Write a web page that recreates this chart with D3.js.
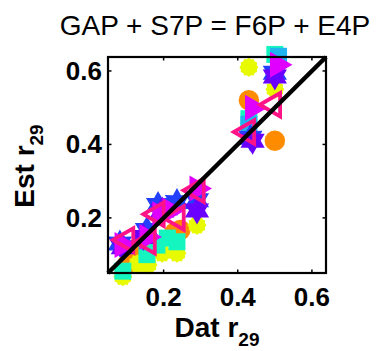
<!DOCTYPE html>
<html>
<head>
<meta charset="utf-8">
<script src="https://cdn.jsdelivr.net/npm/d3@7"></script>
<style>
  body { margin: 0; background: #fff; }
  text { font-family: "Liberation Sans", Arial, sans-serif; }
</style>
</head>
<body>
<svg id="chart" width="379" height="351"></svg>
<script>
const W = 379, H = 351;
const boxL = 108, boxR = 326, boxT = 57, boxB = 273;

const title = "GAP + S7P = F6P + E4P";
const tickValues = [0.2, 0.4, 0.6];
const tickLabels = ["0.2", "0.4", "0.6"];

// one array of [dat, est] pairs per series
const orangePts = [[0.104, 0.077], [0.142, 0.104], [0.23, 0.16], [0.245, 0.167], [0.43, 0.52], [0.50, 0.41]];
const yellowPts = [[0.09, 0.04], [0.13, 0.075], [0.158, 0.072], [0.196, 0.104], [0.236, 0.104], [0.29, 0.18], [0.43, 0.61], [0.50, 0.55]];
const cyanPts = [[0.09, 0.055], [0.155, 0.10], [0.182, 0.126], [0.21, 0.145], [0.236, 0.135], [0.43, 0.47], [0.50, 0.645]];
const skyPts = [[0.43, 0.455], [0.51, 0.64]];
const bluePts = [[0.082, 0.13], [0.155, 0.167], [0.185, 0.235], [0.236, 0.243], [0.29, 0.248], [0.434, 0.418], [0.50, 0.595]];
const violetPts = [[0.09, 0.12], [0.145, 0.148], [0.196, 0.22], [0.29, 0.22], [0.44, 0.41], [0.50, 0.585]];
const magentaPts = [[0.088, 0.126], [0.155, 0.148], [0.19, 0.21], [0.217, 0.22], [0.29, 0.28], [0.44, 0.50], [0.507, 0.617]];
const pinkPts = [[0.10, 0.14], [0.158, 0.135], [0.182, 0.21], [0.236, 0.20], [0.29, 0.275], [0.426, 0.434], [0.496, 0.508]];

const svg = d3.select("#chart");
const x = d3.scaleLinear().domain([0.05, 0.638]).range([boxL, boxR]);
const y = d3.scaleLinear().domain([0.05, 0.638]).range([boxB, boxT]);

// star polygon path centred on 0,0
function star(n, R, r, rot) {
  const pts = [];
  for (let i = 0; i < 2 * n; i++) {
    const a = rot + (i * Math.PI) / n;
    const rad = i % 2 === 0 ? R : r;
    pts.push([rad * Math.cos(a), rad * Math.sin(a)]);
  }
  return "M" + pts.map((p) => p.join(",")).join("L") + "Z";
}
// dir: 0 = pointing right, PI = pointing left
function triangle(R, dir) {
  const pts = [0, 1, 2].map((i) => {
    const a = dir + (i * 2 * Math.PI) / 3;
    return [R * Math.cos(a), R * Math.sin(a)];
  });
  return "M" + pts.map((p) => p.join(",")).join("L") + "Z";
}

const series = [
  { pts: orangePts, color: "#ff8c00", path: d3.symbol(d3.symbolCircle, 330)() },
  { pts: yellowPts, color: "#e8fa00", path: star(12, 9.5, 8.2, 0) },
  { pts: cyanPts, color: "#14f5c0", path: "M-8.5,-8.5H8.5V8.5H-8.5Z" },
  { pts: skyPts, color: "#1fb4f0", path: "M-8.5,-8.5H8.5V8.5H-8.5Z" },
  { pts: bluePts, color: "#2440ff", path: star(6, 14, 8, -Math.PI / 2) },
  { pts: violetPts, color: "#6a00ff", path: star(6, 14, 8, Math.PI / 2) },
  { pts: magentaPts, color: "#e000ff", path: triangle(15, 0) },
  { pts: pinkPts, color: "#ff1488", path: triangle(13.5, Math.PI), outline: true },
];

series.forEach((s) => {
  svg.append("g")
    .selectAll("path")
    .data(s.pts)
    .enter()
    .append("path")
    .attr("d", s.path)
    .attr("transform", (d) => "translate(" + x(d[0]) + "," + y(d[1]) + ")")
    .attr("fill", s.outline ? "none" : s.color)
    .attr("stroke", s.outline ? s.color : "none")
    .attr("stroke-width", s.outline ? 3.8 : 0)
    .attr("stroke-linejoin", "miter");
});

// identity line
svg.append("line")
  .attr("x1", x(0.05)).attr("y1", y(0.05))
  .attr("x2", x(0.638)).attr("y2", y(0.638))
  .attr("stroke", "#000").attr("stroke-width", 4.5);

// box
svg.append("rect")
  .attr("x", boxL).attr("y", boxT)
  .attr("width", boxR - boxL).attr("height", boxB - boxT)
  .attr("fill", "none").attr("stroke", "#000").attr("stroke-width", 2.2);

// inward ticks on all sides
const tl = 3.5;
tickValues.forEach((v) => {
  svg.append("line").attr("x1", x(v)).attr("x2", x(v)).attr("y1", boxB).attr("y2", boxB - tl).attr("stroke", "#000").attr("stroke-width", 1.5);
  svg.append("line").attr("x1", x(v)).attr("x2", x(v)).attr("y1", boxT).attr("y2", boxT + tl).attr("stroke", "#000").attr("stroke-width", 1.5);
  svg.append("line").attr("y1", y(v)).attr("y2", y(v)).attr("x1", boxL).attr("x2", boxL + tl).attr("stroke", "#000").attr("stroke-width", 1.5);
  svg.append("line").attr("y1", y(v)).attr("y2", y(v)).attr("x1", boxR).attr("x2", boxR - tl).attr("stroke", "#000").attr("stroke-width", 1.5);
});

svg.append("g")
  .selectAll("text")
  .data(tickValues)
  .enter()
  .append("text")
  .attr("x", (d) => x(d))
  .attr("y", 306)
  .attr("text-anchor", "middle")
  .attr("font-size", 26)
  .attr("font-weight", "bold")
  .text((d, i) => tickLabels[i]);

svg.append("g")
  .selectAll("text")
  .data(tickValues)
  .enter()
  .append("text")
  .attr("x", 102)
  .attr("y", (d) => y(d) + 9)
  .attr("text-anchor", "end")
  .attr("font-size", 26)
  .attr("font-weight", "bold")
  .text((d, i) => tickLabels[i]);

// title
svg.append("text")
  .attr("x", 215).attr("y", 35)
  .attr("text-anchor", "middle")
  .attr("font-size", 28)
  .text(title);

// axis labels with subscripts
function label(g, main, sub) {
  const t = g.append("text")
    .attr("text-anchor", "middle")
    .attr("font-size", 28)
    .attr("font-weight", "bold");
  t.append("tspan").text(main);
  t.append("tspan").attr("dy", 9).attr("font-size", 19).text(sub);
  return t;
}
label(svg.append("g").attr("transform", "translate(217,337)"), "Dat r", "29");
label(svg.append("g").attr("transform", "translate(34,166) rotate(-90)"), "Est r", "29");
</script>
</body>
</html>
